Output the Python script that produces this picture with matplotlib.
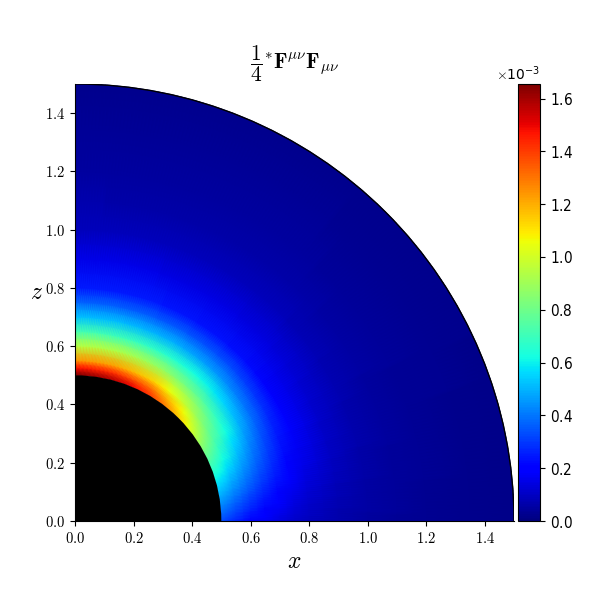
import numpy as np
import matplotlib
matplotlib.use("Agg")
import matplotlib.pyplot as plt
from matplotlib.patches import Wedge, Arc
from matplotlib.ticker import FuncFormatter, ScalarFormatter, MultipleLocator
from matplotlib import font_manager
from matplotlib.font_manager import FontProperties

plt.rcParams['mathtext.fontset'] = 'cm'

# ---- data (values in units of 1e-3) ----
r_nodes = [0.5, 0.525, 0.55, 0.6, 0.65, 0.7, 0.75, 0.8, 0.9, 1.0, 1.1, 1.2, 1.35, 1.5]
theta_deg = [0, 15, 30, 45, 60, 75, 90]          # angle measured from the z axis
F_t0  = [1.655, 1.48, 1.25, 0.95, 0.72, 0.52, 0.37, 0.25, 0.15, 0.09, 0.065, 0.05, 0.035, 0.025]
F_t15 = [1.58, 1.42, 1.22, 0.93, 0.70, 0.51, 0.36, 0.25, 0.15, 0.09, 0.064, 0.049, 0.034, 0.024]
F_t30 = [1.42, 1.30, 1.13, 0.88, 0.66, 0.49, 0.35, 0.24, 0.145, 0.088, 0.062, 0.047, 0.033, 0.023]
F_t45 = [1.15, 1.06, 0.95, 0.77, 0.60, 0.45, 0.33, 0.23, 0.14, 0.085, 0.06, 0.045, 0.032, 0.022]
F_t60 = [0.85, 0.80, 0.73, 0.61, 0.49, 0.38, 0.28, 0.20, 0.12, 0.075, 0.053, 0.04, 0.028, 0.02]
F_t75 = [0.58, 0.55, 0.50, 0.42, 0.34, 0.27, 0.21, 0.16, 0.10, 0.065, 0.046, 0.035, 0.025, 0.018]
F_t90 = [0.33, 0.30, 0.27, 0.21, 0.17, 0.14, 0.11, 0.09, 0.065, 0.05, 0.038, 0.03, 0.022, 0.016]
value_scale = 1e-3
r_inner = 0.5
r_outer = 1.5
tick_vals = [0.0, 0.2, 0.4, 0.6, 0.8, 1.0, 1.2, 1.4]

field = np.array([F_t0, F_t15, F_t30, F_t45, F_t60, F_t75, F_t90]) * value_scale
r_arr = np.array(r_nodes)
th_arr = np.array(theta_deg, dtype=float)

# display mesh: fine in angle so the arcs stay round
th_f = np.linspace(0, 90, 181)
V = np.empty((th_f.size, r_arr.size))
for j in range(r_arr.size):
    V[:, j] = np.interp(th_f, th_arr, field[:, j])
TH, R = np.meshgrid(np.deg2rad(th_f), r_arr, indexing='ij')
X = R * np.sin(TH)
Z = R * np.cos(TH)

fig = plt.figure(figsize=(6, 6), dpi=100)
ax = fig.add_axes([75/600, 79/600, 439/600, 437/600])
cax = fig.add_axes([518/600, 79/600, 22/600, 437/600])

vmax = field.max()
mesh = ax.pcolormesh(X, Z, V, shading='gouraud', cmap='jet', vmin=0, vmax=vmax)
ax.add_patch(Wedge((0, 0), r_inner, 0, 90, facecolor='black', edgecolor='none', zorder=3))
ax.add_patch(Arc((0, 0), 2*r_outer, 2*r_outer, theta1=0, theta2=90, color='black', lw=1.0, zorder=4))

ax.set_xlim(0, 1.5)
ax.set_ylim(0, 1.5)
ax.set_xticks(tick_vals)
ax.set_yticks(tick_vals)
fmt = FuncFormatter(lambda v, p: f'${v:.1f}$')
ax.xaxis.set_major_formatter(fmt)
ax.yaxis.set_major_formatter(fmt)
ax.tick_params(labelsize=10.5)
for s in ('top', 'right'):
    ax.spines[s].set_visible(False)

ax.set_xlabel('$x$', fontsize=17, labelpad=2)
ax.set_ylabel('$z$', fontsize=17, rotation=0, ha='center', va='center')
ax.yaxis.set_label_coords(-0.088, 0.525)
ax.set_title(r'$\dfrac{\mathbf{1}}{\mathbf{4}}{}^{*}\mathbf{F}^{\mu\nu}\mathbf{F}_{\mu\nu}$', fontsize=15.5, pad=8)

cb = fig.colorbar(mesh, cax=cax)
sf = ScalarFormatter(useMathText=True)
sf.set_powerlimits((0, 0))
cb.ax.yaxis.set_major_formatter(sf)
cb.ax.yaxis.set_major_locator(MultipleLocator(0.2e-3))
cb.ax.yaxis.get_offset_text().set_fontsize(10)

# narrow sans for colorbar tick labels
fp = None
for f in font_manager.fontManager.ttflist:
    if f.name == 'Liberation Sans Narrow' and f.weight in (400, 'normal') and f.style == 'normal':
        fp = FontProperties(fname=f.fname, size=11)
        break
if fp is None:
    for f in font_manager.fontManager.ttflist:
        if f.name == 'DejaVu Sans' and f.stretch == 'condensed' and f.style == 'normal' and f.weight in (400, 'normal'):
            fp = FontProperties(fname=f.fname, size=11)
            break
if fp is None:
    fp = FontProperties(family='DejaVu Sans', size=11)
fig.canvas.draw()
for t in cb.ax.get_yticklabels():
    t.set_fontproperties(fp)

fig.savefig('out.png', dpi=100)
